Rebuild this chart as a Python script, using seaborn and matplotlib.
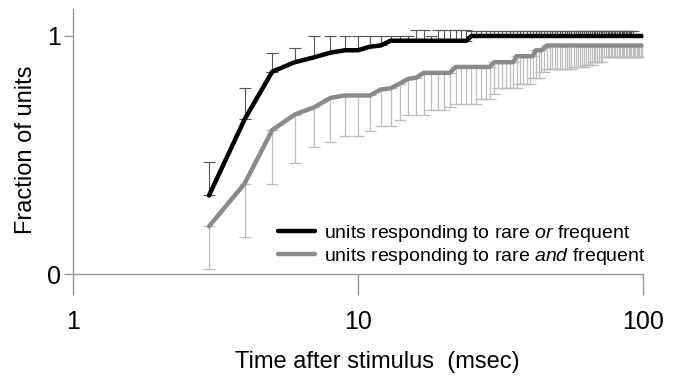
import numpy as np
import pandas as pd
import matplotlib
matplotlib.use("Agg")
import matplotlib.pyplot as plt
import seaborn as sns
from matplotlib.ticker import FixedLocator, FixedFormatter, NullLocator

# time after stimulus, 1 ms steps
time_ms = np.arange(3, 101)

# units responding to rare OR frequent (black)
or_frac = ([0.33, 0.65, 0.85, 0.89, 0.91, 0.93, 0.94, 0.94, 0.955, 0.96, 0.98]
           + [0.98] * 11 + [1.0] * 76)
or_upper = ([0.47, 0.78, 0.93, 0.95, 1.0, 1.0, 1.0, 1.0, 1.0, 1.0, 1.0, 1.0, 1.0,
             1.025, 1.025, 1.0] + [1.025] * 6 + [1.02] * 68 + [1.0] * 8)

# units responding to rare AND frequent (gray)
and_frac = ([0.20, 0.38, 0.605, 0.67, 0.70, 0.74, 0.75, 0.75, 0.75, 0.775, 0.78,
             0.80, 0.82, 0.825] + [0.845] * 5 + [0.87] * 8 + [0.89] * 6
            + [0.915] * 6 + [0.94] * 3 + [0.95] + [0.96] * 55)
and_lower = ([0.02, 0.155, 0.38, 0.465, 0.535, 0.555, 0.58, 0.58, 0.60, 0.62, 0.62,
              0.645, 0.67, 0.67, 0.67, 0.69, 0.69, 0.69, 0.70, 0.715, 0.715, 0.715,
              0.715, 0.715, 0.735, 0.735, 0.735, 0.755, 0.78, 0.78, 0.78, 0.78, 0.78,
              0.78, 0.80, 0.80, 0.80, 0.80, 0.825, 0.825, 0.825, 0.85, 0.85]
             + [0.86] * 11 + [0.87] * 6 + [0.88] * 4 + [0.89] * 6 + [0.91] * 28)

or_label = r"units responding to rare $\mathit{or}$ frequent"
and_label = r"units responding to rare $\mathit{and}$ frequent"

df = pd.DataFrame({"time": time_ms, "or": or_frac, "and": and_frac})
or_frac = np.array(or_frac)
and_frac = np.array(and_frac)
zeros = np.zeros(len(time_ms))

sns.set_style("white")
plt.rcParams["font.family"] = ["Liberation Sans", "DejaVu Sans"]
plt.rcParams["mathtext.fontset"] = "custom"
plt.rcParams["mathtext.rm"] = "Liberation Sans"
plt.rcParams["mathtext.it"] = "Liberation Sans:italic"
plt.rcParams["text.color"] = "black"
plt.rcParams["axes.labelcolor"] = "black"
plt.rcParams["xtick.color"] = "black"
plt.rcParams["ytick.color"] = "black"

fig = plt.figure(figsize=(6.82, 3.78), dpi=100)
ax = fig.add_axes([0.107, 0.275, 0.836, 0.701])

# error bars: gray goes down, black goes up
ax.errorbar(time_ms, and_frac, yerr=[and_frac - np.array(and_lower), zeros],
            fmt="none", ecolor="#bdbdbd", elinewidth=0.9, capsize=4.3,
            capthick=0.9, zorder=1)
ax.errorbar(time_ms, or_frac, yerr=[zeros, np.array(or_upper) - or_frac],
            fmt="none", ecolor="#555555", elinewidth=0.8, capsize=4.3,
            capthick=0.8, zorder=1)

sns.lineplot(data=df, x="time", y="or", color="black", lw=3.2, ax=ax,
             label=or_label, zorder=3)
sns.lineplot(data=df, x="time", y="and", color="#8a8a8a", lw=3.2, ax=ax,
             label=and_label, zorder=2)

ax.set_xscale("log")
ax.set_xlim(1, 100)
ax.set_ylim(0, 1.113)
ax.xaxis.set_major_locator(FixedLocator([1, 10, 100]))
ax.xaxis.set_major_formatter(FixedFormatter(["1", "10", "100"]))
ax.xaxis.set_minor_locator(NullLocator())
ax.set_yticks([0, 1])
ax.set_yticklabels(["0", "1"])

for side in ["top", "right"]:
    ax.spines[side].set_visible(False)
for side in ["left", "bottom"]:
    ax.spines[side].set_color("#999999")
    ax.spines[side].set_linewidth(1.0)

ax.tick_params(axis="x", bottom=True, length=15, width=1, color="#999999",
               labelcolor="black", pad=11, labelsize=18, direction="out")
ax.tick_params(axis="y", left=True, length=6.5, width=1, color="#999999",
               labelcolor="black", pad=2, labelsize=18, direction="out")

ax.set_xlabel("Time after stimulus  (msec)", fontsize=17, color="black")
ax.set_ylabel("Fraction of units", fontsize=17, color="black")
ax.xaxis.set_label_coords(0.533, -0.29)
ax.yaxis.set_label_coords(-0.063, 0.468)

leg = ax.legend(loc="center left", bbox_to_anchor=(0.36, 0.111), frameon=False,
                fontsize=14, handlelength=1.9, handletextpad=0.45,
                labelspacing=0.1, borderpad=0, borderaxespad=0)
for t in leg.get_texts():
    t.set_color("black")

fig.savefig("out.png", dpi=100)
